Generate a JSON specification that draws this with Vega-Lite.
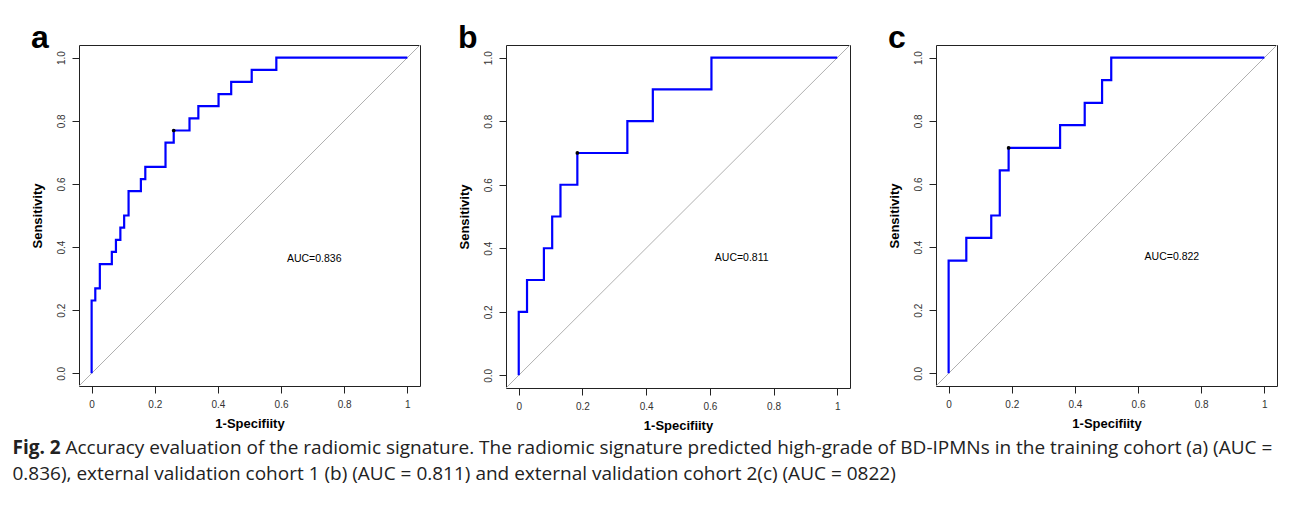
{
  "$schema": "https://vega.github.io/schema/vega-lite/v6.json",
  "background": "white",
  "padding": {"left": 12, "top": 21, "right": 3, "bottom": 3},
  "datasets": {
    "rocA": [
      {"x": 0, "y": 0}, {"x": 0.0116, "y": 0.2308}, {"x": 0.026, "y": 0.2692}, {"x": 0.064, "y": 0.3462},
      {"x": 0.077, "y": 0.3846}, {"x": 0.091, "y": 0.4231}, {"x": 0.103, "y": 0.4615}, {"x": 0.117, "y": 0.5},
      {"x": 0.156, "y": 0.5769}, {"x": 0.17, "y": 0.6154}, {"x": 0.234, "y": 0.6538}, {"x": 0.26, "y": 0.7308},
      {"x": 0.31, "y": 0.7692}, {"x": 0.338, "y": 0.8077}, {"x": 0.402, "y": 0.8462}, {"x": 0.442, "y": 0.8846},
      {"x": 0.507, "y": 0.9231}, {"x": 0.585, "y": 0.9615}, {"x": 1, "y": 1}
    ],
    "rocB": [
      {"x": 0, "y": 0}, {"x": 0.026, "y": 0.2}, {"x": 0.079, "y": 0.3}, {"x": 0.105, "y": 0.4},
      {"x": 0.131, "y": 0.5}, {"x": 0.184, "y": 0.6}, {"x": 0.341, "y": 0.7}, {"x": 0.421, "y": 0.8},
      {"x": 0.605, "y": 0.9}, {"x": 1, "y": 1}
    ],
    "rocC": [
      {"x": 0, "y": 0}, {"x": 0.056, "y": 0.357}, {"x": 0.135, "y": 0.429}, {"x": 0.162, "y": 0.5},
      {"x": 0.19, "y": 0.643}, {"x": 0.353, "y": 0.714}, {"x": 0.431, "y": 0.786}, {"x": 0.486, "y": 0.857},
      {"x": 0.515, "y": 0.929}, {"x": 1, "y": 1}
    ],
    "diag": [{"x": -0.04, "y": -0.04}, {"x": 1.04, "y": 1.04}],
    "dotA": [{"x": 0.26, "y": 0.7692}],
    "dotB": [{"x": 0.184, "y": 0.7}],
    "dotC": [{"x": 0.19, "y": 0.714}],
    "aucA": [{"x": 0.705, "y": 0.362, "label": "AUC=0.836"}],
    "aucB": [{"x": 0.70, "y": 0.368, "label": "AUC=0.811"}],
    "aucC": [{"x": 0.707, "y": 0.368, "label": "AUC=0.822"}]
  },
  "vconcat": [
    {
      "spacing": 34,
      "title": {
        "text": "Accuracy evaluation of the radiomic signature. The radiomic signature predicted high-grade of BD-IPMNs in the training cohort (a) (AUC =",
        "orient": "bottom",
        "anchor": "start",
        "frame": "bounds",
        "font": "Open Sans",
        "fontSize": 19,
        "fontWeight": "normal",
        "color": "#222",
        "baseline": "top",
        "offset": 6,
        "dx": 35
      },
      "hconcat": [
        {
          "width": 341, "height": 341,
          "title": {"text": "a"},
          "encoding": {
            "x": {"field": "x", "type": "quantitative", "scale": {"domain": [-0.04, 1.04], "nice": false, "zero": false}, "axis": {"title": "1-Specifiity", "values": [0, 0.2, 0.4, 0.6, 0.8, 1], "format": "~g"}},
            "y": {"field": "y", "type": "quantitative", "scale": {"domain": [-0.04, 1.04], "nice": false, "zero": false}, "axis": {"title": "Sensitivity", "values": [0, 0.2, 0.4, 0.6, 0.8, 1], "format": ".1f", "labelAngle": -90}}
          },
          "layer": [
            {"data": {"name": "diag"}, "mark": {"type": "line", "color": "#b0b0b0", "strokeWidth": 1}},
            {"data": {"name": "rocA"}, "mark": {"type": "line", "color": "#0000ff", "strokeWidth": 2.2, "interpolate": "step-before"}},
            {"data": {"name": "dotA"}, "mark": {"type": "point", "filled": true, "color": "black", "size": 14, "opacity": 1}},
            {"data": {"name": "aucA"}, "mark": {"type": "text", "font": "Liberation Sans", "fontSize": 10.5, "color": "black"}, "encoding": {"text": {"field": "label"}}}
          ]
        },
        {
          "width": 344, "height": 343,
          "title": {"text": "b"},
          "encoding": {
            "x": {"field": "x", "type": "quantitative", "scale": {"domain": [-0.04, 1.04], "nice": false, "zero": false}, "axis": {"title": "1-Specifiity", "values": [0, 0.2, 0.4, 0.6, 0.8, 1], "format": "~g"}},
            "y": {"field": "y", "type": "quantitative", "scale": {"domain": [-0.04, 1.04], "nice": false, "zero": false}, "axis": {"title": "Sensitivity", "values": [0, 0.2, 0.4, 0.6, 0.8, 1], "format": ".1f", "labelAngle": -90}}
          },
          "layer": [
            {"data": {"name": "diag"}, "mark": {"type": "line", "color": "#b0b0b0", "strokeWidth": 1}},
            {"data": {"name": "rocB"}, "mark": {"type": "line", "color": "#0000ff", "strokeWidth": 2.2, "interpolate": "step-before"}},
            {"data": {"name": "dotB"}, "mark": {"type": "point", "filled": true, "color": "black", "size": 14, "opacity": 1}},
            {"data": {"name": "aucB"}, "mark": {"type": "text", "font": "Liberation Sans", "fontSize": 10.5, "color": "black"}, "encoding": {"text": {"field": "label"}}}
          ]
        },
        {
          "width": 341, "height": 341,
          "title": {"text": "c"},
          "encoding": {
            "x": {"field": "x", "type": "quantitative", "scale": {"domain": [-0.04, 1.04], "nice": false, "zero": false}, "axis": {"title": "1-Specifiity", "values": [0, 0.2, 0.4, 0.6, 0.8, 1], "format": "~g"}},
            "y": {"field": "y", "type": "quantitative", "scale": {"domain": [-0.04, 1.04], "nice": false, "zero": false}, "axis": {"title": "Sensitivity", "values": [0, 0.2, 0.4, 0.6, 0.8, 1], "format": ".1f", "labelAngle": -90}}
          },
          "layer": [
            {"data": {"name": "diag"}, "mark": {"type": "line", "color": "#b0b0b0", "strokeWidth": 1}},
            {"data": {"name": "rocC"}, "mark": {"type": "line", "color": "#0000ff", "strokeWidth": 2.2, "interpolate": "step-before"}},
            {"data": {"name": "dotC"}, "mark": {"type": "point", "filled": true, "color": "black", "size": 14, "opacity": 1}},
            {"data": {"name": "aucC"}, "mark": {"type": "text", "font": "Liberation Sans", "fontSize": 10.5, "color": "black"}, "encoding": {"text": {"field": "label"}}}
          ]
        }
      ]
    }
  ],
  "title": {
    "text": "Fig. 2",
    "subtitle": "0.836), external validation cohort 1 (b) (AUC = 0.811) and external validation cohort 2(c) (AUC = 0822)",
    "orient": "bottom",
    "anchor": "start",
    "frame": "bounds",
    "font": "Open Sans",
    "fontSize": 19,
    "fontWeight": "bold",
    "color": "#222",
    "baseline": "top",
    "subtitleFont": "Open Sans",
    "subtitleFontSize": 19,
    "subtitleFontWeight": "normal",
    "subtitleColor": "#222",
    "subtitlePadding": 7.5,
    "offset": -19,
    "dx": -18
  },
  "config": {
    "view": {"stroke": "#222", "strokeWidth": 1},
    "title": {"anchor": "start", "frame": "bounds", "font": "Liberation Sans", "fontSize": 32, "fontWeight": "bold", "color": "black", "baseline": "alphabetic", "offset": -12},
    "axis": {
      "domain": false,
      "grid": false,
      "tickColor": "#222",
      "tickSize": 7,
      "tickWidth": 1,
      "labelFont": "Liberation Sans",
      "labelFontSize": 10,
      "labelColor": "#333",
      "labelPadding": 6,
      "titleFont": "Liberation Sans",
      "titleFontSize": 13,
      "titleFontWeight": "bold",
      "titleColor": "black"
    },
    "axisX": {"titlePadding": 8},
    "axisY": {"titlePadding": 12}
  }
}
